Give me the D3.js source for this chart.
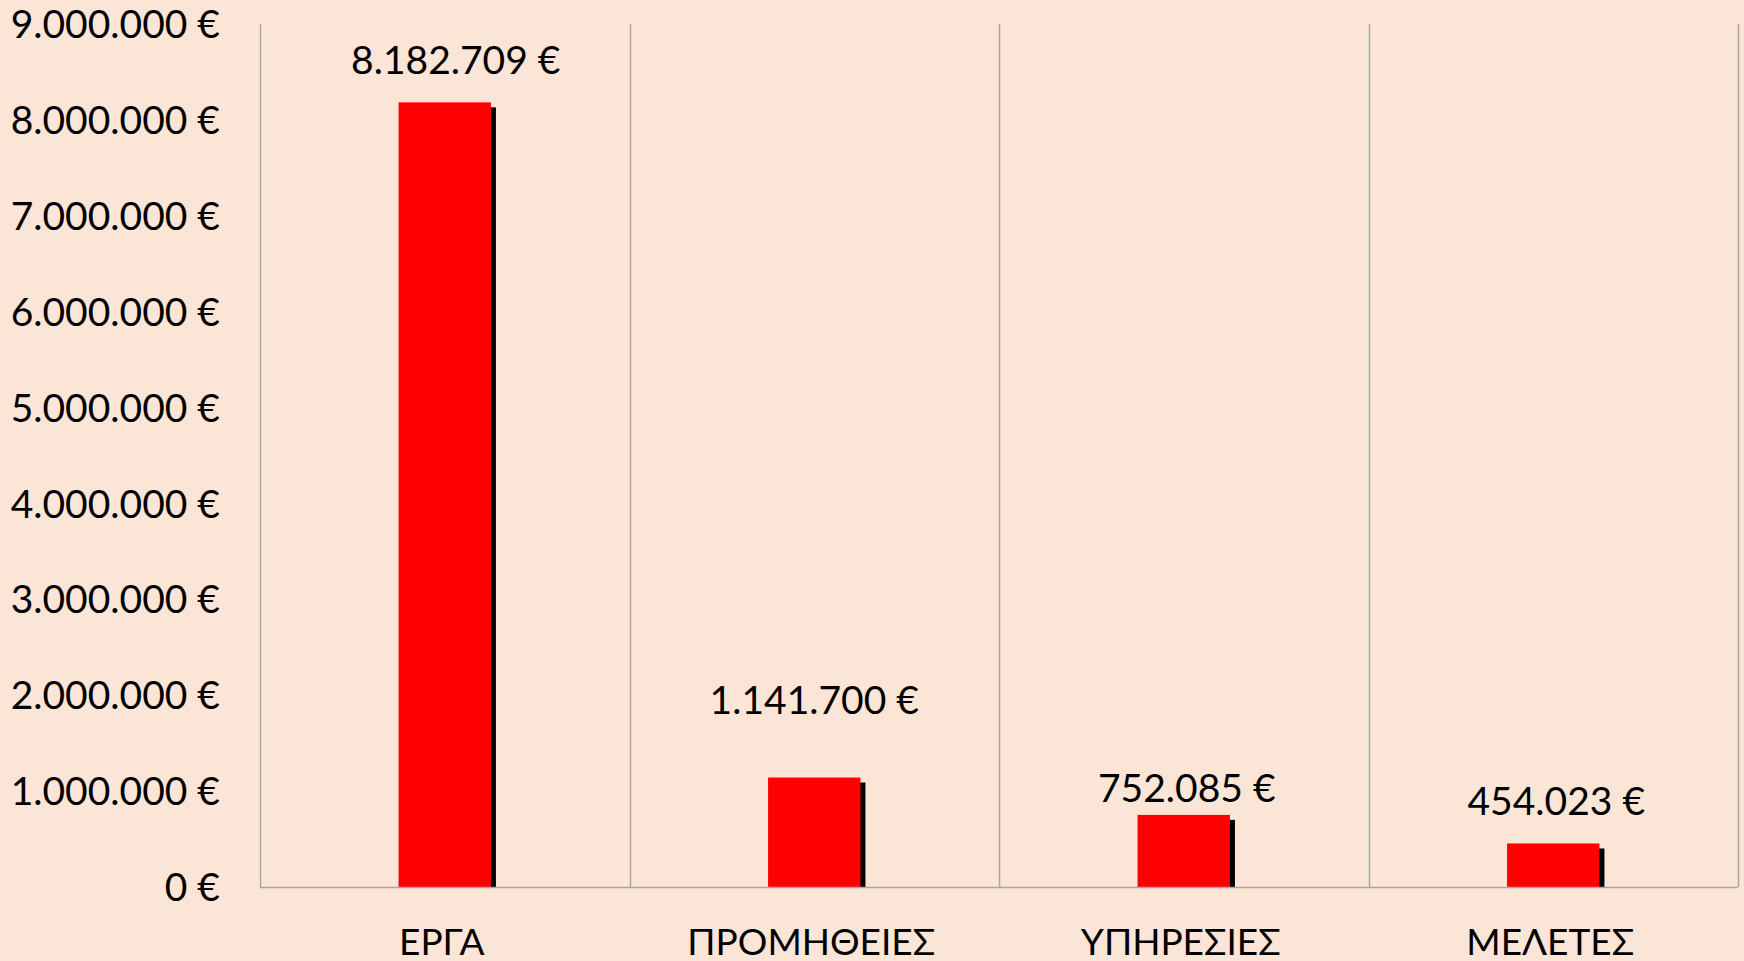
<!DOCTYPE html>
<html>
<head>
<meta charset="utf-8">
<script src="https://cdn.jsdelivr.net/npm/d3@7"></script>
<style>
    html, body { margin: 0; padding: 0; background: #FBE5D6; }
    svg { display: block; }
    text { font-family: Lato, "Open Sans", sans-serif; fill: #000; }
</style>
</head>
<body>
<div id="chart"></div>
<script>
// Chart data
const categories = ["ΕΡΓΑ", "ΠΡΟΜΗΘΕΙΕΣ", "ΥΠΗΡΕΣΙΕΣ", "ΜΕΛΕΤΕΣ"];
const amounts = [8182709, 1141700, 752085, 454023];
const yTicks = [0, 1000000, 2000000, 3000000, 4000000, 5000000, 6000000, 7000000, 8000000, 9000000];

// greek number format: 1.000.000 €
const fmt = d => d3.format(",")(d).replace(/,/g, ".") + " €";

function drawChart() {
    const width = 1744;
    const height = 961;
    const margin = { top: 24, right: 6, bottom: 74, left: 260 };
    const innerW = width - margin.left - margin.right;
    const innerH = height - margin.top - margin.bottom;

    const svg = d3.select("#chart")
        .append("svg")
        .attr("width", width)
        .attr("height", height);

    svg.append("rect")
        .attr("width", width)
        .attr("height", height)
        .attr("fill", "#FBE5D6");

    const g = svg.append("g")
        .attr("transform", `translate(${margin.left}, ${margin.top})`);

    const x = d3.scaleBand()
        .domain(categories)
        .range([0, innerW]);

    const y = d3.scaleLinear()
        .domain([0, 9000000])
        .range([innerH, 0]);

    // vertical separators between categories
    const bounds = [0].concat(categories.map(c => x(c) + x.bandwidth()));
    g.selectAll("line.sep")
        .data(bounds)
        .enter()
        .append("line")
        .attr("class", "sep")
        .attr("x1", d => Math.round(d) + 0.5)
        .attr("x2", d => Math.round(d) + 0.5)
        .attr("y1", 0)
        .attr("y2", innerH)
        .attr("stroke", "#A6A6A6")
        .attr("stroke-width", 1.5);

    // y axis labels
    const yAxis = g.append("g")
        .call(d3.axisLeft(y).tickValues(yTicks).tickFormat(fmt).tickSize(0).tickPadding(40));
    yAxis.select(".domain").remove();
    yAxis.selectAll("text")
        .style("font-family", "Lato, sans-serif")
        .style("font-size", "39px")
        .attr("dy", "0.35em");

    // bars
    const barW = x.bandwidth() * 0.25;
    const barX = c => x(c) + (x.bandwidth() - barW) / 2;

    // shadow
    g.selectAll("rect.shadow")
        .data(categories)
        .enter()
        .append("rect")
        .attr("class", "shadow")
        .attr("x", c => barX(c) + 5)
        .attr("y", (c, i) => y(amounts[i]) + 5)
        .attr("width", barW)
        .attr("height", (c, i) => innerH - y(amounts[i]) - 4)
        .attr("fill", "#000");

    g.selectAll("rect.bar")
        .data(categories)
        .enter()
        .append("rect")
        .attr("class", "bar")
        .attr("x", c => barX(c))
        .attr("y", (c, i) => y(amounts[i]))
        .attr("width", barW)
        .attr("height", (c, i) => innerH - y(amounts[i]))
        .attr("fill", "#FF0000");

    // x axis line
    g.append("line")
        .attr("x1", 0)
        .attr("x2", innerW)
        .attr("y1", innerH + 0.5)
        .attr("y2", innerH + 0.5)
        .attr("stroke", "#A6A6A6")
        .attr("stroke-width", 1.5);

    // data labels (moved by hand in the original)
    const labelDx = [11, 0, 3, 3];
    const labelGap = [28, 64, 13, 28];
    g.selectAll("text.value")
        .data(categories)
        .enter()
        .append("text")
        .attr("class", "value")
        .attr("x", (c, i) => x(c) + x.bandwidth() / 2 + labelDx[i])
        .attr("y", (c, i) => y(amounts[i]) - labelGap[i])
        .attr("text-anchor", "middle")
        .style("font-size", "39px")
        .text((c, i) => fmt(amounts[i]));

    // category labels
    g.selectAll("text.cat")
        .data(categories)
        .enter()
        .append("text")
        .attr("class", "cat")
        .attr("x", c => x(c) + x.bandwidth() / 2 - 3)
        .attr("y", innerH + 68)
        .attr("text-anchor", "middle")
        .style("font-size", "37px")
        .text(c => c);
}

drawChart();
</script>
</body>
</html>
